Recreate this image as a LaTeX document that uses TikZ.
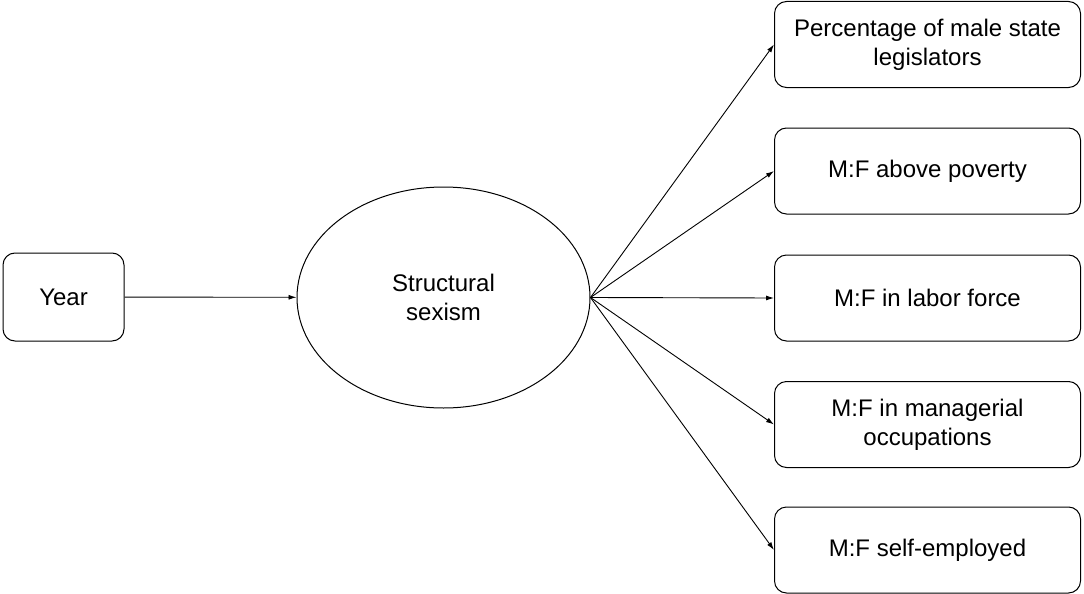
\documentclass[tikz,border=0pt]{standalone}
\usepackage{fontspec}
\setmainfont{Liberation Sans}
\usetikzlibrary{arrows.meta,shapes.geometric}
\tikzset{
  obs/.style={draw, line width=1pt, rounded corners=12pt, minimum width=306pt, minimum height=86pt, align=center, font=\fontsize{24}{29}\selectfont},
  latent/.style={draw, ellipse, line width=1pt, minimum width=293pt, minimum height=221pt, inner sep=0pt, align=center, font=\fontsize{24}{29}\selectfont},
  path/.style={line width=0.9pt, -{Latex[length=8pt,width=5pt]}}
}
\begin{document}
\begin{tikzpicture}[x=1pt,y=-1pt]
	\useasboundingbox (0,0) rectangle (1084,594);
	% exogenous and latent
	\node[obs, minimum width=121pt, minimum height=88pt] (year) at (63.5,297) {Year};
	\node[latent] (sexism) at (443.5,297.5) {Structural\\sexism};
	% indicators
	\node[obs] (legis) at (927.5,44.5) {Percentage of male state\\legislators};
	\node[obs] (poverty) at (927.5,171) {M:F above poverty};
	\node[obs] (labor) at (927.5,298) {M:F in labor force};
	\node[obs] (manag) at (927.5,424.5) {M:F in managerial\\occupations};
	\node[obs] (selfemp) at (927.5,550) {M:F self-employed};
	\draw[path] (year) -- (sexism);
	\foreach \n in {legis,poverty,labor,manag,selfemp} {\draw[path] (sexism.east) -- (\n.west); }
\end{tikzpicture}
\end{document}
